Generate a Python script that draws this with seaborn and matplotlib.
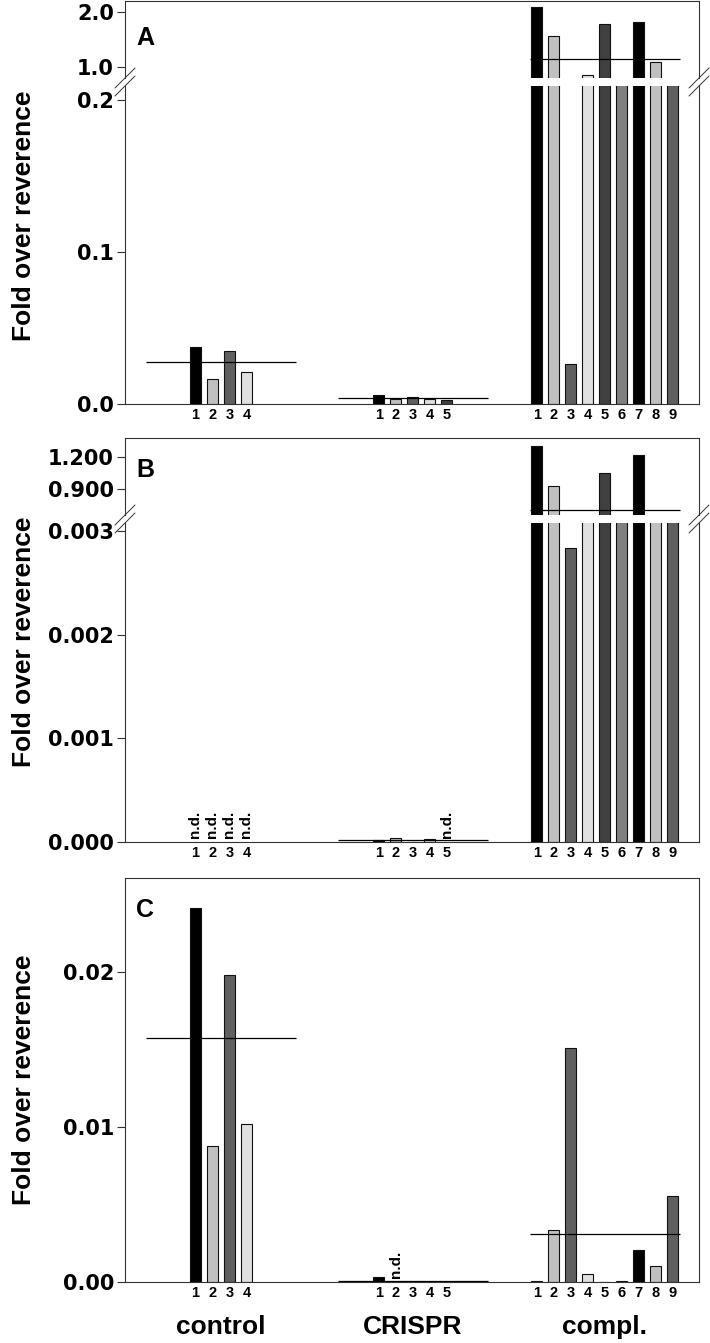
import numpy as np
import pandas as pd
import matplotlib
matplotlib.use("Agg")
import matplotlib.pyplot as plt
import seaborn as sns
from matplotlib.lines import Line2D
from matplotlib.ticker import FormatStrFormatter

nan = np.nan

# groups and replicate numbers
groups = ["control", "CRISPR", "compl."]
reps = [[1, 2, 3, 4], [1, 2, 3, 4, 5], [1, 2, 3, 4, 5, 6, 7, 8, 9]]

# panel A (NaN = n.d.)
a_control = [0.0377, 0.0164, 0.0347, 0.0208]
a_crispr = [0.0057, 0.0033, 0.0046, 0.0035, 0.0026]
a_compl = [2.09, 1.56, 0.026, 0.85, 1.78, 0.55, 1.82, 1.09, 0.58]

# panel B
b_control = [nan, nan, nan, nan]
b_crispr = [0.000016, 0.0000425, 0.0000015, 0.000032, nan]
b_compl = [1.30, 0.93, 0.00284, 0.45, 1.05, 0.50, 1.22, 0.42, 0.48]

# panel C
c_control = [0.0241, 0.00877, 0.0198, 0.0102]
c_crispr = [0.0003, nan, 0.00003, 0.00002, 0.00003]
c_compl = [0.00004, 0.00335, 0.01512, 0.00054, 0.0, 0.00005, 0.00204, 0.00106, 0.00555]

rep_colors = {"1": "#000000", "2": "#c0c0c0", "3": "#606060", "4": "#e0e0e0",
              "5": "#404040", "6": "#808080", "7": "#000000", "8": "#c0c0c0",
              "9": "#606060"}

sns.set_style("ticks")
plt.rcParams["font.family"] = ["Liberation Sans", "DejaVu Sans"]
plt.rcParams["font.weight"] = "bold"
plt.rcParams["text.color"] = "black"
plt.rcParams["xtick.labelcolor"] = "black"
plt.rcParams["ytick.labelcolor"] = "black"
plt.rcParams["axes.edgecolor"] = "#333333"
plt.rcParams["axes.linewidth"] = 0.8

W, H = 710, 1343
fig = plt.figure(figsize=(W / 100, H / 100), dpi=100)

step = 17 / 192  # spacing of replicate bars, in group units


def box(top, bottom, left=125, right=699):
    return [left / W, 1 - bottom / H, (right - left) / W, (bottom - top) / H]


def make_frame(values):
    rows = []
    for g, (name, r, v) in enumerate(zip(groups, reps, values)):
        n = len(r)
        for k, val in zip(r, v):
            rows.append(dict(group=name, gi=g, rep=str(k), value=val,
                             pos=g + (k - (n + 1) / 2) * step))
    return pd.DataFrame(rows)


def draw(ax, df, ylim, ticks, fmt):
    sns.barplot(data=df.dropna(subset=["value"]), x="pos", y="value", hue="rep",
                palette=rep_colors, native_scale=True, dodge=False, width=0.65,
                saturation=1, edgecolor="#111111", linewidth=0.8, errorbar=None,
                legend=False, ax=ax)
    # group means (n.d. left out)
    for g, sub in df.groupby("gi"):
        m = sub["value"].mean()
        if not np.isnan(m):
            ax.hlines(m, g - 0.39, g + 0.39, color="black", lw=0.9, zorder=4)
    ax.set_xlim(-0.5, 2.49)
    ax.set_ylim(*ylim)
    ax.set_yticks(ticks)
    ax.yaxis.set_major_formatter(FormatStrFormatter(fmt))
    ax.set_xlabel("")
    ax.set_ylabel("")
    ax.tick_params(axis="y", direction="out", length=6, width=0.8, pad=2,
                   color="#333333")
    for lab in ax.get_yticklabels():
        lab.set_fontfamily("DejaVu Sans")
        lab.set_fontweight("bold")
        lab.set_fontsize(15)


def bottom_axis(ax, df):
    ax.set_xticks(df["pos"], labels=df["rep"])
    ax.tick_params(axis="x", length=0, pad=3, labelsize=10.5)
    for _, row in df[df["value"].isna()].iterrows():
        ax.annotate("n.d.", (row["pos"], 0), xytext=(0, 3), textcoords="offset points",
                    rotation=90, ha="center", va="bottom", fontsize=11,
                    fontweight="bold")


def top_axis(ax):
    ax.set_xticks([])
    ax.spines["bottom"].set_visible(False)


def break_marks(y_mid):
    for x in (125, 699):
        for dy in (-4, 4):
            fig.add_artist(Line2D([(x - 10) / W, (x + 10) / W],
                                  [1 - (y_mid + dy + 10) / H, 1 - (y_mid + dy - 10) / H],
                                  color="#333333", lw=0.7))


# panel A
df_a = make_frame([a_control, a_crispr, a_compl])
ax_a1 = fig.add_axes(box(1, 78))
ax_a2 = fig.add_axes(box(86, 404))
draw(ax_a1, df_a, (0.8, 2.2), [1.0, 2.0], "%.1f")
draw(ax_a2, df_a, (0, 0.2092), [0.0, 0.1, 0.2], "%.1f")
top_axis(ax_a1)
ax_a2.spines["top"].set_visible(False)
bottom_axis(ax_a2, df_a)
break_marks(82)

# panel B
df_b = make_frame([b_control, b_crispr, b_compl])
ax_b1 = fig.add_axes(box(438, 515))
ax_b2 = fig.add_axes(box(523, 842))
draw(ax_b1, df_b, (0.656, 1.378), [0.9, 1.2], "%.3f")
draw(ax_b2, df_b, (0, 0.003077), [0.0, 0.001, 0.002, 0.003], "%.3f")
top_axis(ax_b1)
ax_b2.spines["top"].set_visible(False)
bottom_axis(ax_b2, df_b)
break_marks(519)

# panel C
df_c = make_frame([c_control, c_crispr, c_compl])
ax_c = fig.add_axes(box(878, 1282))
draw(ax_c, df_c, (0, 0.02606), [0.0, 0.01, 0.02], "%.2f")
bottom_axis(ax_c, df_c)
for g, name in enumerate(groups):
    ax_c.text(g, -0.111, name, transform=ax_c.get_xaxis_transform(),
              ha="center", va="center", fontsize=19, fontweight="bold")

# panel letters and y labels
for letter, yc, ylab in [("A", 38, 216), ("B", 470, 642), ("C", 910, 1080)]:
    fig.text(136 / W, 1 - yc / H, letter, ha="left", va="center", fontsize=18,
             fontweight="bold")
    fig.text(24 / W, 1 - ylab / H, "Fold over reverence", rotation=90,
             ha="center", va="center", fontsize=19, fontweight="bold")

fig.savefig("out.png", dpi=100)
